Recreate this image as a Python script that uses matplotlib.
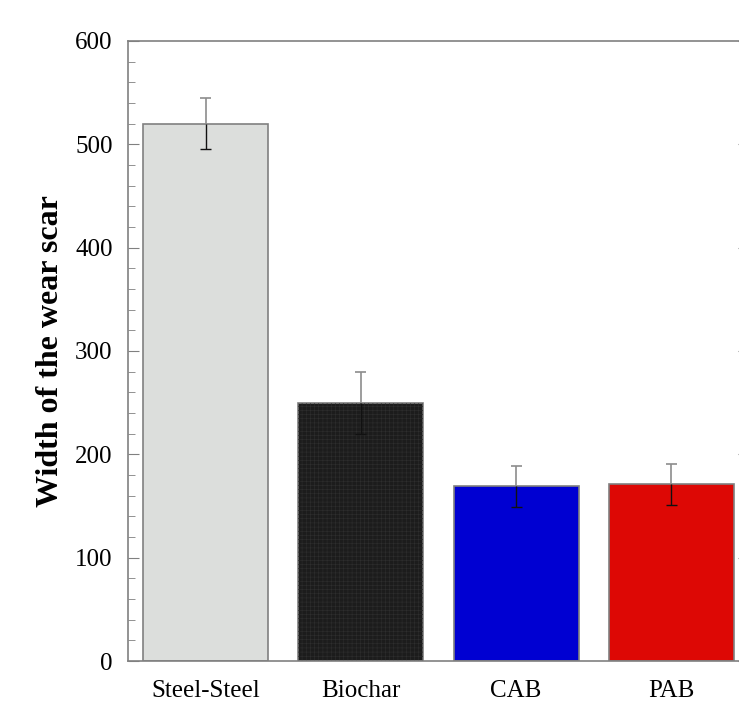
import numpy as np
import matplotlib.pyplot as plt
from matplotlib.ticker import MultipleLocator

labels = ['Steel-Steel', 'Biochar', 'CAB', 'PAB']
width_scar = [520, 250, 169, 171]
err = [25, 30, 20, 20]
colors = ['#dcdedc', '#1c1c1c', '#0000d2', '#dd0805']

plt.rcParams['font.family'] = ['Liberation Serif', 'DejaVu Serif']
plt.rcParams['hatch.linewidth'] = 0.4

fig = plt.figure(figsize=(7.39, 7.07), dpi=100)
ax = fig.add_axes([128/739, 46/707, 621/739, 620/707])

x = np.arange(len(labels))
vals = np.array(width_scar)
e = np.array(err)
ax.bar(x, vals, width=0.805, color=colors, edgecolor='#808080', linewidth=1.2, zorder=2)
# fine texture on the biochar bar
ax.bar(x[1], vals[1], width=0.805, facecolor='none', edgecolor='#2e2e2e',
       hatch='++++', linewidth=0, zorder=2.5)

# error bars: gray above the bar, dark inside the bar
cw = 0.035
ax.vlines(x, vals, vals + e, color='#8c8c8c', lw=1.2, zorder=3)
ax.vlines(x, vals - e, vals, color='#111111', lw=1.0, zorder=3)
ax.hlines(vals + e, x - cw, x + cw, color='#8c8c8c', lw=1.2, zorder=3)
ax.hlines(vals - e, x - cw, x + cw, color='#111111', lw=1.0, zorder=3)

ax.set_xlim(-0.5, 3.5)
ax.set_ylim(0, 600)
ax.yaxis.set_major_locator(MultipleLocator(100))
ax.yaxis.set_minor_locator(MultipleLocator(20))
ax.tick_params(axis='y', which='major', direction='in', length=8, color='#808080',
               labelsize=18, pad=11, right=True)
ax.tick_params(axis='y', which='minor', direction='in', length=5, color='#808080', right=True)
ax.tick_params(axis='x', length=0, labelsize=18, pad=14)
ax.set_xticks(x)
ax.set_xticklabels(labels)
for s in ax.spines.values():
    s.set_color('#808080')
    s.set_linewidth(1.2)

ax.set_ylabel('Width of the wear scar', fontsize=23, fontweight='bold', labelpad=7)

fig.savefig('out.png', dpi=100)
